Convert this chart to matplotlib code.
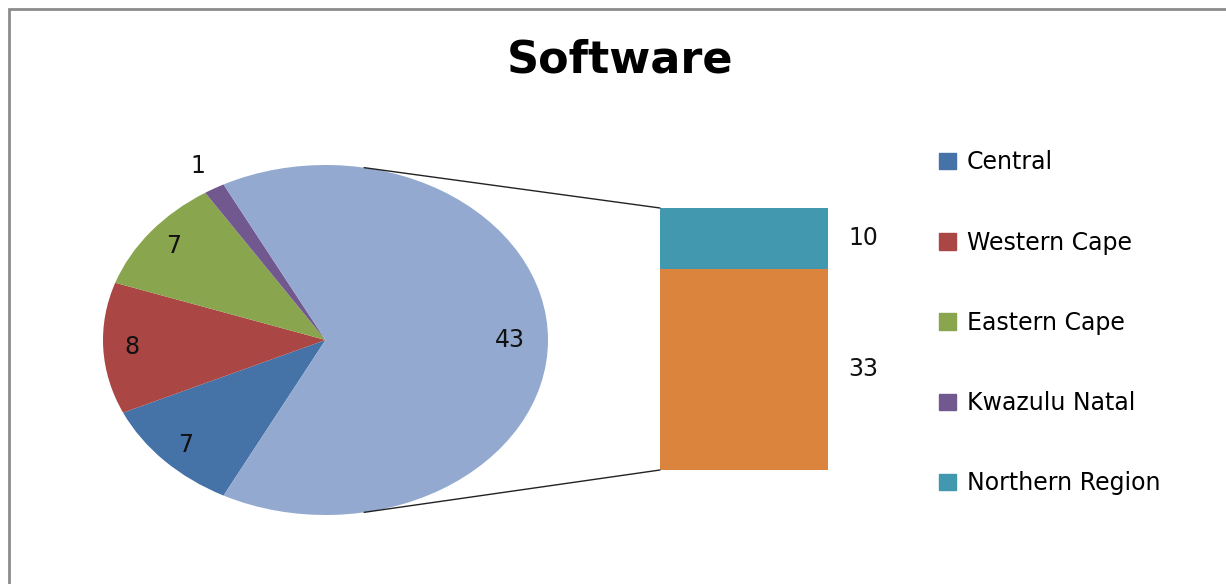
import numpy as np
import matplotlib
matplotlib.use("Agg")
import matplotlib.pyplot as plt
from matplotlib.patches import ConnectionPatch, Rectangle, Patch

# data
regions = ["Central", "Western Cape", "Eastern Cape", "Kwazulu Natal", "Northern Region"]
pie_values = [7, 8, 7, 1]          # slices shown directly in the pie
bar_values = [33, 10]              # split of the "other" slice (bottom, top)
other_total = sum(bar_values)      # 43

pie_colors = ["#4572A7", "#AA4643", "#89A54E", "#71588F", "#93A9CF"]
bar_colors = ["#DB843D", "#4198AF"]

W, H = 1226, 584
fig = plt.figure(figsize=(W / 100, H / 100), dpi=100)
plt.rcParams["font.family"] = ["DejaVu Sans"]


def box(x0, y0, x1, y1):
    # pixel box (top-left origin) -> figure fraction rect
    return [x0 / W, 1 - y1 / H, (x1 - x0) / W, (y1 - y0) / H]


# ---- pie ----
ax_pie = fig.add_axes(box(103, 165, 548, 515))
vals = pie_values + [other_total]
total = sum(vals)
start = -360 * other_total / total / 2
wedges, _ = ax_pie.pie(vals, colors=pie_colors, counterclock=False,
                       startangle=start, radius=1,
                       wedgeprops=dict(linewidth=0))
ax_pie.set_aspect("auto")
ax_pie.set_xlim(-1, 1)
ax_pie.set_ylim(-1, 1)
ax_pie.axis("off")

for w, v in zip(wedges, vals):
    mid = np.radians((w.theta1 + w.theta2) / 2)
    r = 1.15 if v == 1 else (0.83 if v == other_total else 0.87)
    ax_pie.text(r * np.cos(mid), r * np.sin(mid), str(v), ha="center",
                va="center", fontsize=17, color="#111111")

# ---- bar ----
ax_bar = fig.add_axes(box(660, 208, 828, 470))
bottom = 0
for v, c in zip(bar_values, bar_colors):
    ax_bar.bar(0, v, width=1, bottom=bottom, color=c, linewidth=0)
    ax_bar.text(0.62, bottom + v / 2, str(v), ha="left", va="center",
                fontsize=17, color="#111111")
    bottom += v
ax_bar.set_xlim(-0.5, 0.5)
ax_bar.set_ylim(0, other_total)
ax_bar.axis("off")

# connector lines
t = np.radians(80)
for sy, by in [(1, other_total), (-1, 0)]:
    con = ConnectionPatch(xyA=(np.cos(t), sy * np.sin(t)), coordsA=ax_pie.transData,
                          xyB=(-0.5, by), coordsB=ax_bar.transData,
                          color="#222222", lw=1)
    fig.add_artist(con)

# ---- legend ----
handles = [Patch(color=c) for c in pie_colors[:4]] + [Patch(color=bar_colors[1])]
fig.legend(handles, regions, loc="upper left", bbox_to_anchor=(930 / W, 1 - 141 / H),
           frameon=False, fontsize=17, handlelength=0.7, handleheight=0.7,
           handletextpad=0.45, labelspacing=2.38, borderaxespad=0)

fig.text(620 / W, 1 - 60 / H, "Software", ha="center", va="center",
         fontsize=32, fontweight="bold")

# chart border (only top/left edges visible)
fig.add_artist(Rectangle((9 / W, -0.1), 1.2, 1 - 9 / H + 0.1, transform=fig.transFigure,
                         fill=False, edgecolor="#8c8c8c", lw=2))

fig.savefig("out.png", dpi=100)
